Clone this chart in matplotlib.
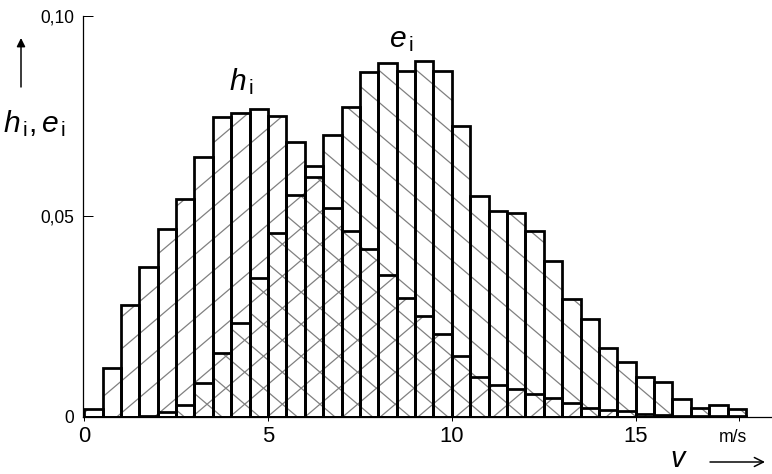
import numpy as np
import matplotlib
matplotlib.use('Agg')
import matplotlib.pyplot as plt
from matplotlib.path import Path
from matplotlib.collections import LineCollection
from matplotlib.transforms import IdentityTransform

# wind speed classes, 0 ... 18 m/s in steps of 0.5 m/s
bin_width = 0.5
bin_left = np.arange(0, 18, bin_width)

# h_i: relative frequency of the class, e_i: share of the wind energy
h_i = [0.0018, 0.0120, 0.0278, 0.0373, 0.0468, 0.0543, 0.0649, 0.0749, 0.0757,
       0.0767, 0.0750, 0.0686, 0.0625, 0.0520, 0.0464, 0.0418, 0.0353, 0.0295,
       0.0251, 0.0206, 0.0152, 0.0098, 0.0079, 0.0069, 0.0056, 0.0045, 0.0034,
       0.0022, 0.0016, 0.0014, 0.0006, 0.0004, 0.0002, 0.0001, 0.0001, 0.0001]
e_i = [0.0, 0.0, 0.0, 0.0002, 0.0010, 0.0029, 0.0083, 0.0158, 0.0233,
       0.0345, 0.0457, 0.0553, 0.0599, 0.0703, 0.0772, 0.0861, 0.0883, 0.0863,
       0.0888, 0.0863, 0.0725, 0.0551, 0.0514, 0.0507, 0.0464, 0.0387, 0.0293,
       0.0243, 0.0172, 0.0137, 0.0099, 0.0085, 0.0044, 0.0020, 0.0029, 0.0018]

x_ticks = [0, 5, 10, 15]
y_ticks = [0, 0.05, 0.10]
y_ticklabels = ['0', '0,05', '0,10']

plt.rcParams['font.family'] = ['Liberation Sans', 'DejaVu Sans']
plt.rcParams['mathtext.fontset'] = 'custom'
plt.rcParams['mathtext.it'] = 'Liberation Sans:italic'
plt.rcParams['mathtext.rm'] = 'Liberation Sans'

DPI = 180
fig = plt.figure(figsize=(772 / DPI, 474 / DPI), dpi=DPI)
ax = fig.add_axes([0.1071, 0.1213, 0.8925, 0.845])

bars_h = ax.bar(bin_left, h_i, width=bin_width, align='edge', facecolor='none',
                edgecolor='black', linewidth=1.1, zorder=2)
bars_e = ax.bar(bin_left, e_i, width=bin_width, align='edge', facecolor='none',
                edgecolor='black', linewidth=1.1, zorder=2)


def hatch_bars(bars, direction, spacing=32, slope=0.85):
    # sparse gray hatching, clipped to the union of the bars
    rects = [p.get_path().transformed(p.get_patch_transform()) for p in bars]
    clip = Path.make_compound_path(*rects)
    W, H = fig.bbox.width, fig.bbox.height
    segs = []
    for c in np.arange(-slope * W - H, H + slope * W + spacing, spacing):
        if direction == '/':
            segs.append([(0, c), (W, c + slope * W)])
        else:
            segs.append([(0, c), (W, c - slope * W)])
    lc = LineCollection(segs, colors='0.5', linewidths=0.5,
                        transform=IdentityTransform(), zorder=1)
    lc.set_clip_path(clip, ax.transData)
    ax.add_collection(lc, autolim=False)


hatch_bars(bars_h, '/')
hatch_bars(bars_e, '\\')

ax.set_xlim(-0.04, 18.7)
ax.set_ylim(0, 0.10)
for side in ['top', 'right']:
    ax.spines[side].set_visible(False)
for side in ['left', 'bottom']:
    ax.spines[side].set_linewidth(0.5)

ax.set_xticks(x_ticks)
ax.set_xticks([17.8], minor=True)
ax.tick_params(axis='x', which='both', direction='out', length=1.6, width=0.4,
               labelsize=8.8, pad=2.2)
ax.set_yticks(y_ticks)
ax.set_yticklabels(y_ticklabels)
ax.tick_params(axis='y', direction='in', length=4, width=0.4, labelsize=7, pad=3.5)

ax.text(4.29, 0.0815, r'$h_{\,\mathrm{i}}$', fontsize=12, ha='center', va='baseline')
ax.text(8.64, 0.0923, r'$e_{\,\mathrm{i}}$', fontsize=12, ha='center', va='baseline')

# axis captions outside the axes
fig.text(3 / 772, 1 - 132 / 474, r'$h_{\,\mathrm{i}},e_{\,\mathrm{i}}$',
         fontsize=12, ha='left', va='baseline')
ax.annotate('', xy=(21, 474 - 33), xytext=(21, 474 - 92), xycoords='figure pixels',
            textcoords='figure pixels',
            arrowprops=dict(arrowstyle='-|>', lw=0.6, color='black', mutation_scale=7))
fig.text(733 / 772, 1 - 437 / 474, 'm/s', fontsize=7, ha='center', va='center')
fig.text(678 / 772, 1 / 474, 'v', fontsize=11.5, style='italic', ha='center', va='bottom')
ax.annotate('', xy=(770, 474 - 462), xytext=(705, 474 - 462), xycoords='figure pixels',
            textcoords='figure pixels',
            arrowprops=dict(arrowstyle='->', lw=0.6, color='black', mutation_scale=9))

fig.savefig('out.png', dpi=DPI)
